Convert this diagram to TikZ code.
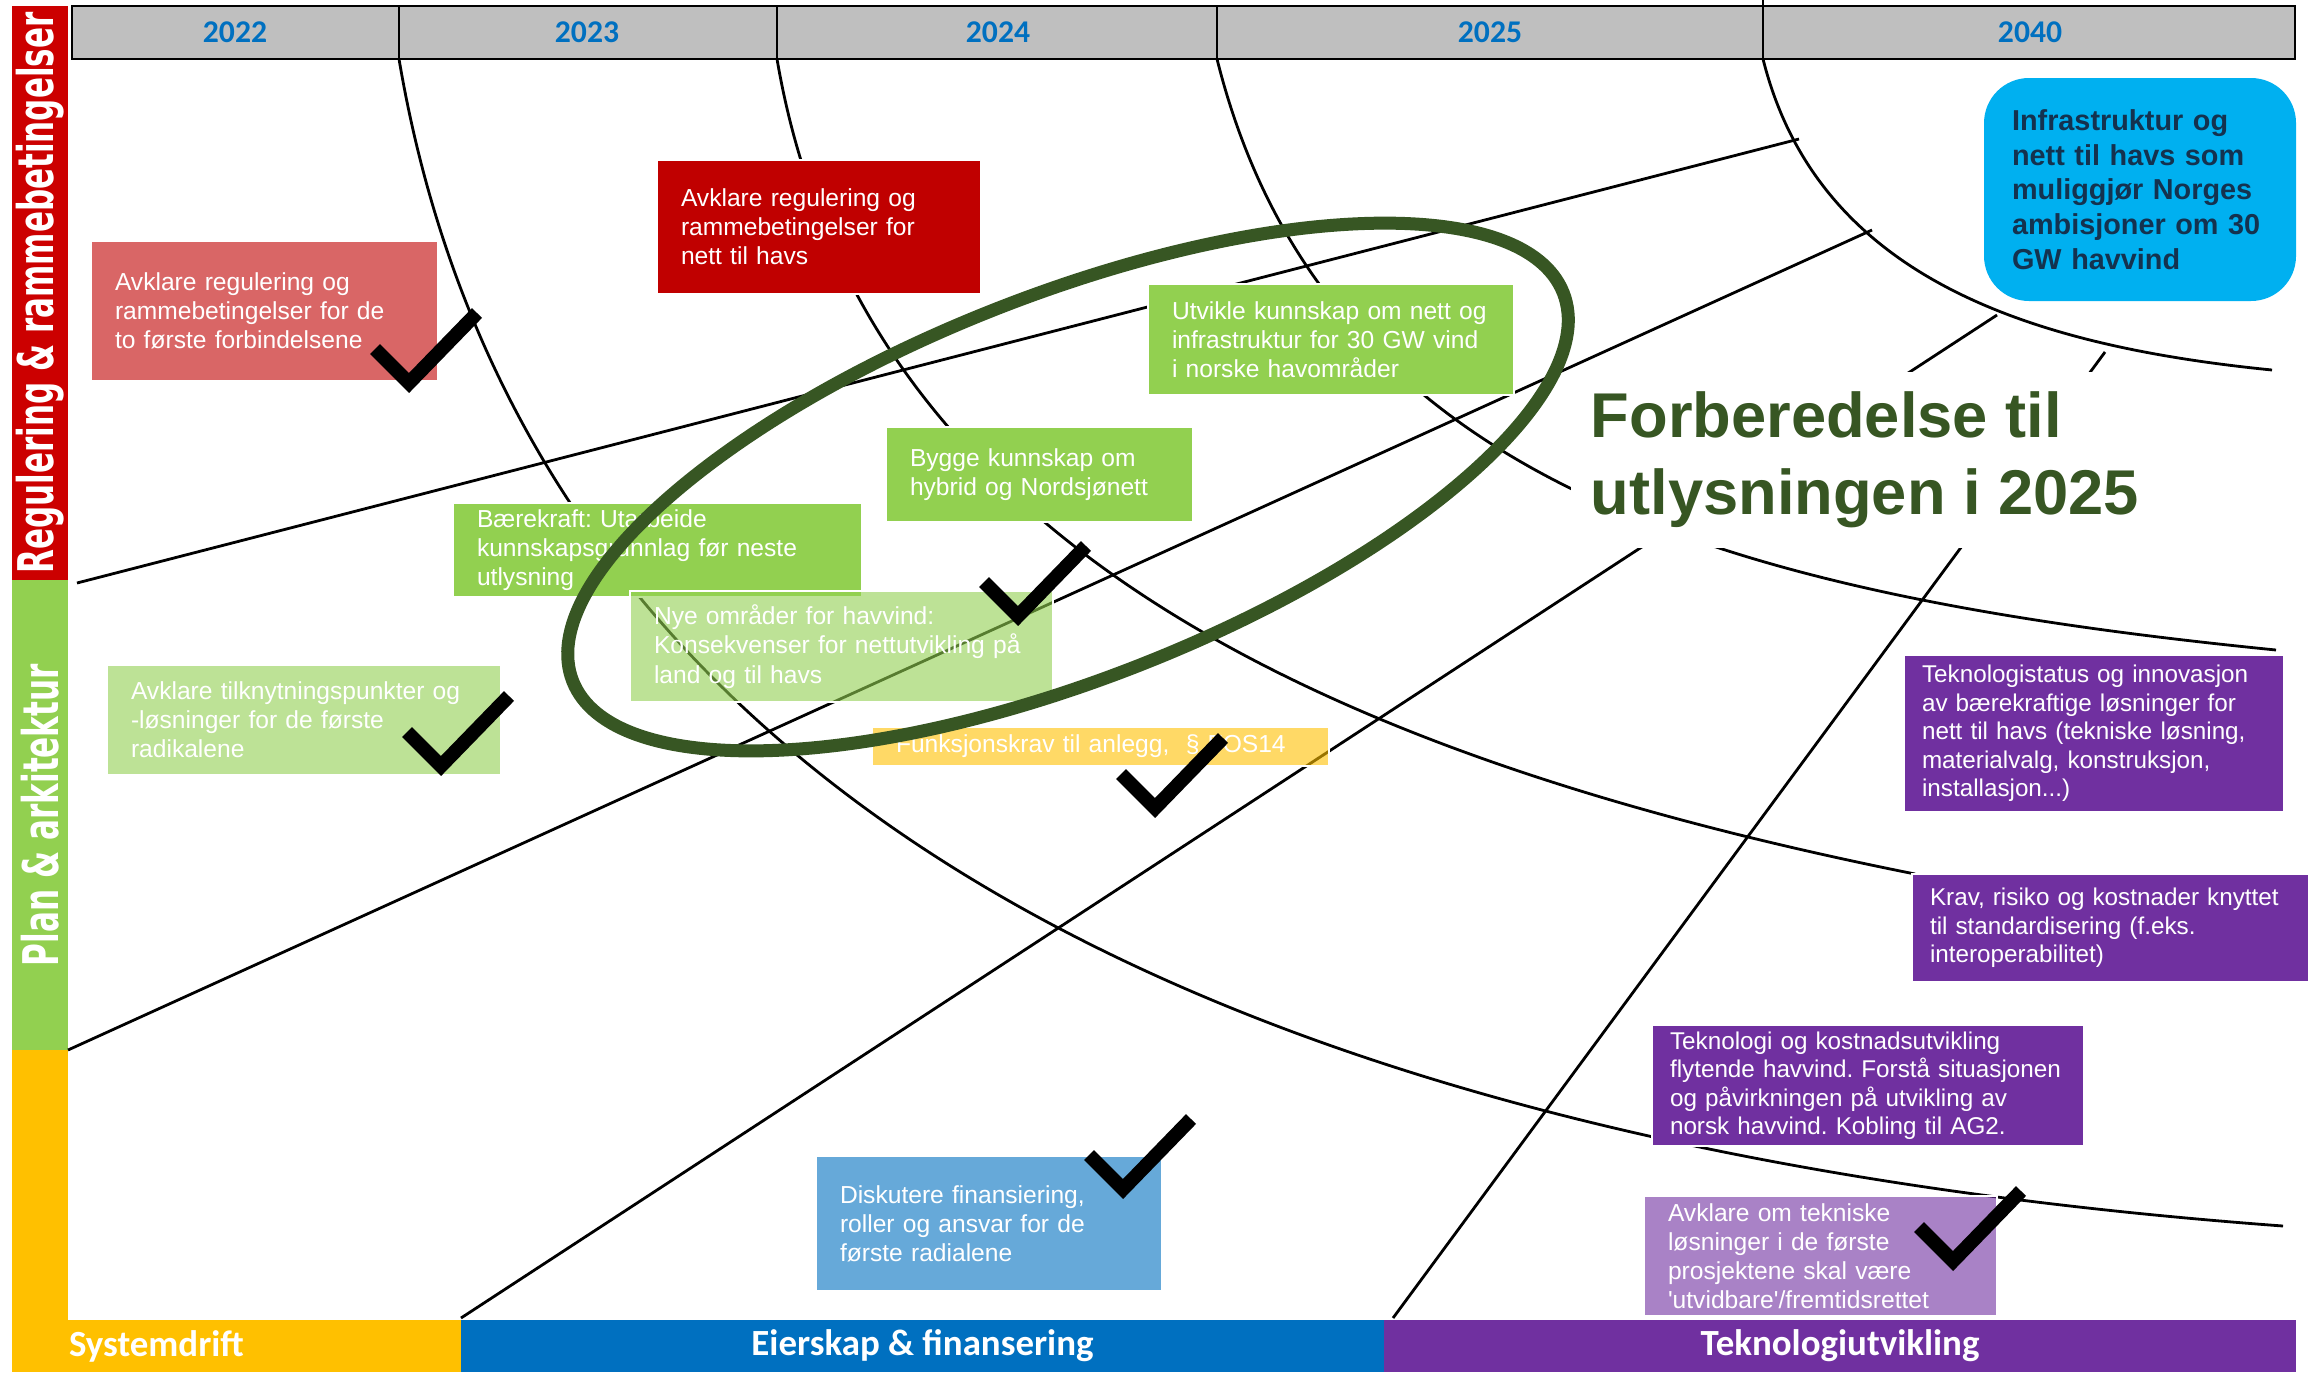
\documentclass[tikz,border=0pt]{standalone}
\usepackage{fontspec}
\setmainfont{Liberation Sans}
\newfontfamily\calfont{Carlito}
\newfontfamily\sidefont{DejaVu Sans}
\frenchspacing

\definecolor{regred}{HTML}{CC0000}
\definecolor{darkred}{HTML}{C00000}
\definecolor{plangreen}{HTML}{92D050}
\definecolor{sysyellow}{HTML}{FFC000}
\definecolor{eierblue}{HTML}{0070C0}
\definecolor{tekpurple}{HTML}{7030A0}
\definecolor{goalcyan}{HTML}{00B0F0}
\definecolor{goalnavy}{HTML}{14324F}
\definecolor{forbgreen}{HTML}{375623}
\definecolor{headgray}{HTML}{BFBFBF}

\def\donemark(#1,#2){\draw[checkstroke] (#1+5,#2+2) -- ++(34,34) -- ++(68,-70);}

\tikzset{
  gridline/.style={line width=0.28mm},
  checkstroke/.style={line width=1.4mm, line join=miter},
  taskbox/.style={anchor=north west, draw=white, line width=0.2mm, text=white, text opacity=1,
    align=left, inner xsep=2.4mm, inner ysep=0mm, font=\fontsize{7pt}{8.3pt}\selectfont},
  techbox/.style={taskbox, fill=tekpurple, inner xsep=1.8mm, font=\fontsize{6.9pt}{8.1pt}\selectfont},
  sidebar/.style={rotate=90, text=white, inner sep=0mm, minimum height=5.6mm,
    font=\sidefont\bfseries\fontsize{14pt}{16pt}\selectfont},
  catbar/.style={text=white, inner sep=0mm, minimum height=5.2mm,
    font=\calfont\bfseries\fontsize{10.5pt}{12pt}\selectfont},
  yearlabel/.style={text=eierblue, font=\calfont\bfseries\fontsize{9pt}{10pt}\selectfont}
}

\begin{document}
\begin{tikzpicture}[x=0.1mm,y=-0.1mm]
  \useasboundingbox (0,0) rectangle (2308,1375);
  \fill[white] (0,0) rectangle (2308,1375);

  % year header
  \draw[fill=headgray, line width=0.25mm] (72,6) rectangle (2295,59);
  \foreach \xd in {399,777,1217,1763}
    \draw[line width=0.25mm] (\xd,6) -- (\xd,59);
  \draw[line width=0.25mm] (1763,0) -- (1763,6);
  \foreach \yr/\xc in {2022/235,2023/587,2024/998,2025/1490,2040/2030}
    \node[yearlabel] (yr\yr) at (\xc,32) {\yr};

  % side and bottom bars
  \fill[sysyellow] (12,1050) rectangle (68,1372);
  \node[sidebar, fill=regred, minimum width=57.4mm] (sidereg) at (40,293)
    {\resizebox{56.1mm}{\height}{Regulering \& rammebetingelser}};
  \node[sidebar, fill=plangreen, minimum width=47mm] (sideplan) at (40,815)
    {\resizebox{30.2mm}{\height}{Plan \& arkitektur}};
  \node[catbar, fill=sysyellow, text width=33.5mm, inner xsep=5.7mm, align=left] (sysdrift) at (236.5,1346) {Systemdrift};
  \node[catbar, fill=eierblue, minimum width=92.3mm] (eierskap) at (922.5,1346) {Eierskap \& finansering};
  \node[catbar, fill=tekpurple, minimum width=91.2mm] (teknologi) at (1840,1346) {Teknologiutvikling};

  % arcs and spokes
  \draw[gridline] (399,59) .. controls (521,779) and (1190,1145) .. (2283,1226);
  \draw[gridline] (777,59) .. controls (854,509) and (1260,743) .. (1915,874);
  \draw[gridline] (1217,59) .. controls (1322,479) and (1716,594) .. (2276,650);
  \draw[gridline] (1763,59) .. controls (1818,279) and (2032,346) .. (2272,370);
  \draw[gridline] (77,583) -- (1799,139);
  \draw[gridline] (68,1050) -- (1872,230);
  \draw[gridline] (461,1318) -- (1997,315);
  \draw[gridline] (1393,1318) -- (2105,352);

  % tasks
  \node[taskbox, fill=darkred, fill opacity=0.6, minimum width=34.7mm, minimum height=14mm, text width=29.9mm] (reg1) at (90,240)
    {Avklare regulering og\\rammebetingelser for de\\to første forbindelsene};
  \node[taskbox, fill=darkred, minimum width=32.4mm, minimum height=13.4mm, text width=27.6mm] (reg2) at (656,159)
    {Avklare regulering og\\rammebetingelser for\\nett til havs};
  \node[taskbox, fill=plangreen, minimum width=40.9mm, minimum height=9.4mm, text width=36.1mm] (baerekraft) at (452,502)
    {Bærekraft: Utarbeide\\kunnskapsgrunnlag før neste\\utlysning};
  \node[taskbox, fill=plangreen, minimum width=30.7mm, minimum height=9.5mm, text width=25.9mm] (hybrid) at (885,426)
    {Bygge kunnskap om\\hybrid og Nordsjønett};
  \node[taskbox, fill=plangreen, minimum width=36.6mm, minimum height=11.1mm, text width=31.8mm] (utvikle) at (1147,283)
    {Utvikle kunnskap om nett og\\infrastruktur for 30 GW vind\\i norske havområder};
  \node[taskbox, fill=plangreen, fill opacity=0.6, minimum width=42.3mm, minimum height=11.1mm, text width=37.5mm] (nyeomr) at (629,590)
    {Nye områder for havvind:\\Konsekvenser for nettutvikling på\\land og til havs};
  \node[taskbox, fill=plangreen, fill opacity=0.6, minimum width=39.4mm, minimum height=11mm, text width=34.6mm] (tilknyt) at (106,664)
    {Avklare tilknytningspunkter og\\-løsninger for de første\\radikalene};
  \node[taskbox, fill=sysyellow, fill opacity=0.6, minimum width=45.7mm, minimum height=3.9mm, text width=40.9mm] (funkkrav) at (871,726)
    {Funksjonskrav til anlegg,~~§ FOS14};
  \node[taskbox, fill=eierblue, fill opacity=0.6, minimum width=34.6mm, minimum height=13.5mm, text width=29.8mm] (finans) at (815,1155)
    {Diskutere finansiering,\\roller og ansvar for de\\første radialene};
  \node[taskbox, fill=goalcyan, draw=none, rounded corners=4.5mm, text=goalnavy, inner xsep=2.8mm,
    font=\bfseries\fontsize{8.2pt}{9.9pt}\selectfont, minimum width=31.2mm, minimum height=22.3mm, text width=25.6mm] (maal) at (1983,77)
    {Infrastruktur og\\nett til havs som\\muliggjør Norges\\ambisjoner om 30\\GW havvind};
  \node[techbox, minimum width=38mm, minimum height=15.7mm, text width=34.4mm] (tekstatus) at (1903,654)
    {Teknologistatus og innovasjon\\av bærekraftige løsninger for\\nett til havs (tekniske løsning,\\materialvalg, konstruksjon,\\installasjon...)};
  \node[techbox, minimum width=39.7mm, minimum height=10.8mm, text width=36.1mm] (standard) at (1911,873)
    {Krav, risiko og kostnader knyttet\\til standardisering (f.eks.\\interoperabilitet)};
  \node[techbox, minimum width=43.2mm, minimum height=12.1mm, text width=39.6mm] (flytende) at (1651,1024)
    {Teknologi og kostnadsutvikling\\flytende havvind. Forstå situasjonen\\og påvirkningen på utvikling av\\norsk havvind. Kobling til AG2.};
  \node[taskbox, fill=tekpurple, fill opacity=0.6, minimum width=35.3mm, minimum height=12mm, text width=30.5mm] (utvidbar) at (1643,1195)
    {Avklare om tekniske\\løsninger i de første\\prosjektene skal være\\\textquotesingle utvidbare\textquotesingle/fremtidsrettet};

  % focus 2025
  \node[anchor=west, fill=white, inner xsep=2mm, inner ysep=2mm, align=left, text=forbgreen,
    font=\bfseries\fontsize{18pt}{21.9pt}\selectfont] (forbered) at (1570,460)
    {Forberedelse til\\utlysningen i 2025};
  \draw[forbgreen, line width=1.3mm, rotate around={21.4:(1068,487)}] (1068,487) ellipse [x radius=532, y radius=192];

  % done
  \donemark(370,347)
  \donemark(979,580)
  \donemark(402,730)
  \donemark(1116,772)
  \donemark(1084,1153)
  \donemark(1914,1225)
\end{tikzpicture}
\end{document}
